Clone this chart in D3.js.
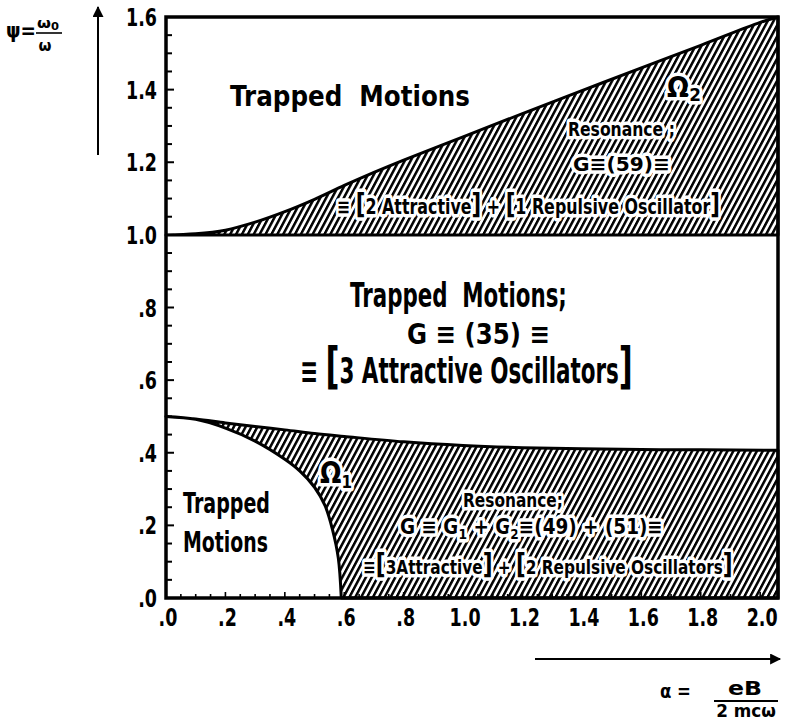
<!DOCTYPE html>
<html>
<head>
<meta charset="utf-8">
<script src="https://cdnjs.cloudflare.com/ajax/libs/d3/7.8.5/d3.min.js"></script>
<style>
  body { margin: 0; background: #fff; }
  svg text { font-family: "DejaVu Sans", sans-serif; font-weight: bold; fill: #000; white-space: pre; }
  .knock { paint-order: stroke; stroke: #fff; stroke-width: 7px; stroke-linejoin: round; }
</style>
</head>
<body>
<div id="chart"></div>
<script>
// tick labels
var xTickVals = [0, 0.2, 0.4, 0.6, 0.8, 1.0, 1.2, 1.4, 1.6, 1.8, 2.0];
var xTickLabels = ['.0', '.2', '.4', '.6', '.8', '1.0', '1.2', '1.4', '1.6', '1.8', '2.0'];
var yTickVals = [0, 0.2, 0.4, 0.6, 0.8, 1.0, 1.2, 1.4, 1.6];
var yTickLabels = ['.0', '.2', '.4', '.6', '.8', '1.0', '1.2', '1.4', '1.6'];

// Omega2 upper boundary (lower boundary is psi = 1.0)
var omega2X = [0, 0.1, 0.2, 0.3, 0.4, 0.5, 0.6, 0.7, 0.8, 1.0, 1.2, 1.4, 1.6, 1.8, 2.0, 2.06];
var omega2Y = [1.0, 1.003, 1.013, 1.035, 1.064, 1.098, 1.136, 1.172, 1.206, 1.27, 1.334, 1.397, 1.46, 1.522, 1.585, 1.6];

// Omega1 outer (upper) boundary
var omega1OuterX = [0, 0.1, 0.2, 0.3, 0.4, 0.5, 0.6, 0.8, 1.0, 1.2, 1.4, 1.6, 1.8, 2.06];
var omega1OuterY = [0.5, 0.493, 0.482, 0.472, 0.463, 0.453, 0.445, 0.43, 0.42, 0.414, 0.411, 0.409, 0.408, 0.407];

// Omega1 inner boundary (edge of the trapped region near the origin)
var omega1InnerX = [0, 0.1, 0.2, 0.3, 0.4, 0.45, 0.5, 0.535, 0.56, 0.58, 0.59];
var omega1InnerY = [0.5, 0.492, 0.468, 0.432, 0.382, 0.35, 0.305, 0.255, 0.19, 0.11, 0.0];

var width = 786, height = 721;
var xMax = 2.06, yMax = 1.6;

var svg = d3.select('#chart').append('svg')
  .attr('width', width)
  .attr('height', height);

var x = d3.scaleLinear().domain([0, xMax]).range([166, 778]);
var y = d3.scaleLinear().domain([0, yMax]).range([598, 17]);

// hatch pattern
var defs = svg.append('defs');
defs.append('pattern')
  .attr('id', 'hatch')
  .attr('patternUnits', 'userSpaceOnUse')
  .attr('width', 5.2)
  .attr('height', 10)
  .attr('patternTransform', 'rotate(28)')
  .append('rect')
  .attr('x', 0).attr('y', 0)
  .attr('width', 2.5).attr('height', 10)
  .attr('fill', '#000');

var pts = function(xs, ys) { return xs.map(function(v, i) { return [v, ys[i]]; }); };
var curve = d3.line()
  .x(function(d) { return x(d[0]); })
  .y(function(d) { return y(d[1]); })
  .curve(d3.curveCatmullRom.alpha(0.5));
var straight = d3.line()
  .x(function(d) { return x(d[0]); })
  .y(function(d) { return y(d[1]); });

// Omega2 region
var o2 = pts(omega2X, omega2Y);
svg.append('path')
  .attr('d', curve(o2) + straight([[xMax, yMax], [xMax, 1.0], [0, 1.0]]).replace(/^M/, 'L') + 'Z')
  .attr('fill', 'url(#hatch)')
  .attr('stroke', '#000')
  .attr('stroke-width', 3)
  .attr('stroke-linejoin', 'round');

// Omega1 region
var o1out = pts(omega1OuterX, omega1OuterY);
var o1in = pts(omega1InnerX, omega1InnerY).reverse();
svg.append('path')
  .attr('d', curve(o1out) + straight([[xMax, 0.407], [xMax, 0], [0.59, 0]]).replace(/^M/, 'L') +
    curve(o1in).replace(/^M/, 'L') + 'Z')
  .attr('fill', 'url(#hatch)')
  .attr('stroke', '#000')
  .attr('stroke-width', 3)
  .attr('stroke-linejoin', 'round');

// frame
svg.append('rect')
  .attr('x', x(0)).attr('y', y(yMax))
  .attr('width', x(xMax) - x(0)).attr('height', y(0) - y(yMax))
  .attr('fill', 'none').attr('stroke', '#000').attr('stroke-width', 3.5);

// ticks every 0.05, inside the frame
var yMinor = d3.range(0, yMax + 0.001, 0.05);
svg.selectAll('.ytick').data(yMinor).enter().append('line')
  .attr('x1', x(0)).attr('x2', function(d, i) { return x(0) + (i % 4 === 0 ? 8 : 6); })
  .attr('y1', function(d) { return y(d); }).attr('y2', function(d) { return y(d); })
  .attr('stroke', '#000').attr('stroke-width', 2);

var xMinor = d3.range(0, 2.001, 0.05);
svg.selectAll('.xtick').data(xMinor).enter().append('line')
  .attr('y1', y(0)).attr('y2', function(d, i) { return y(0) - (i % 4 === 0 ? 6 : 4); })
  .attr('x1', function(d) { return x(d); }).attr('x2', function(d) { return x(d); })
  .attr('stroke', '#000').attr('stroke-width', 1.6);

// narrow lettering: squeeze text horizontally
function squeeze(sel, xp, yp, sx) {
  sel.attr('x', 0).attr('y', 0)
    .attr('transform', 'translate(' + xp + ',' + yp + ') scale(' + sx + ',1)');
}

// tick labels
svg.selectAll('.ylab').data(yTickVals).enter().append('text')
  .attr('text-anchor', 'end')
  .attr('font-size', 25)
  .text(function(d, i) { return yTickLabels[i]; })
  .each(function(d) { squeeze(d3.select(this), 157, y(d) + 9, 0.7); });

svg.selectAll('.xlab').data(xTickVals).enter().append('text')
  .attr('text-anchor', 'middle')
  .attr('font-size', 25)
  .text(function(d, i) { return xTickLabels[i]; })
  .each(function(d) { squeeze(d3.select(this), x(d) + 2, 626, 0.7); });

// axis arrows
defs.append('marker')
  .attr('id', 'arr').attr('viewBox', '0 0 10 10')
  .attr('refX', 9).attr('refY', 5)
  .attr('markerWidth', 12).attr('markerHeight', 5.5)
  .attr('markerUnits', 'strokeWidth')
  .attr('orient', 'auto')
  .append('path').attr('d', 'M0,0 L10,5 L0,10 Z').attr('fill', '#000');

svg.append('line').attr('x1', 98).attr('y1', 155).attr('x2', 98).attr('y2', 7)
  .attr('stroke', '#000').attr('stroke-width', 2).attr('marker-end', 'url(#arr)');
svg.append('line').attr('x1', 535).attr('y1', 659).attr('x2', 780).attr('y2', 659)
  .attr('stroke', '#000').attr('stroke-width', 2).attr('marker-end', 'url(#arr)');

// annotations, fitted to a target width
function label(xp, yp, size, parts, w, cls, anchor) {
  var t = svg.append('text').attr('font-size', size);
  if (cls) t.attr('class', cls);
  if (anchor) t.attr('text-anchor', anchor);
  parts.forEach(function(p) {
    if (typeof p === 'string') { t.append('tspan').text(p); return; }
    var s = t.append('tspan').text(p.t);
    if (p.size) s.attr('font-size', p.size);
    if (p.dy) s.attr('dy', p.dy);
  });
  var bw = t.node().getBBox().width;
  squeeze(t, xp, yp, w / bw);
  return t;
}

// axis titles
label(6, 38, 22, ['ψ='], 30);
label(48, 28, 14, ['ω', {t: '0', size: 10, dy: 2}], 22, null, 'middle');
svg.append('line').attr('x1', 36).attr('x2', 62).attr('y1', 33).attr('y2', 33).attr('stroke', '#000').attr('stroke-width', 1.6);
label(45, 51, 15, ['ω'], 13, null, 'middle');

label(660, 698, 20, ['α ='], 31);
label(745, 695, 20, ['eB'], 34, null, 'middle');
svg.append('line').attr('x1', 714).attr('x2', 778).attr('y1', 701).attr('y2', 701).attr('stroke', '#000').attr('stroke-width', 2);
label(746, 717, 17, ['2 mcω'], 60, null, 'middle');

// region texts
label(230, 106, 28, ['Trapped  Motions'], 240);
label(667, 97, 28, ['Ω', {t: '2', size: 18, dy: 4}], 34, 'knock');
label(568, 136, 19, ['Resonance ;'], 107, 'knock');
label(573, 171, 20, ['G≡(59)≡'], 97, 'knock');
label(337, 214, 21, ['≡ ', {t: '[', size: 28}, '2 Attractive', {t: ']', size: 28}, ' + ', {t: '[', size: 28}, '1 Repulsive Oscillator', {t: ']', size: 28}], 383, 'knock');

label(350, 307, 33, ['Trapped  Motions;'], 217);
label(407, 344, 29, ['G ≡ (35) ≡'], 143);
label(300, 383, 35, ['≡ ', {t: '[', size: 50}, '3 Attractive Oscillators', {t: ']', size: 50}], 333);

label(320, 483, 30, ['Ω', {t: '1', size: 18, dy: 5}], 32, 'knock');
label(183, 513, 28, ['Trapped'], 87);
label(183, 552, 29, ['Motions'], 85);
label(463, 507, 20, ['Resonance;'], 100, 'knock');
label(400, 534, 21, ['G ≡ G', {t: '1', size: 14, dy: 5}, {t: ' + G', dy: -5}, {t: '2', size: 14, dy: 5}, {t: '≡(49) + (51)≡', dy: -5}], 263, 'knock');
label(363, 574, 20, ['≡', {t: '[', size: 28}, '3Attractive', {t: ']', size: 28}, ' + ', {t: '[', size: 28}, '2 Repulsive Oscillators', {t: ']', size: 28}], 370, 'knock');
</script>
</body>
</html>
